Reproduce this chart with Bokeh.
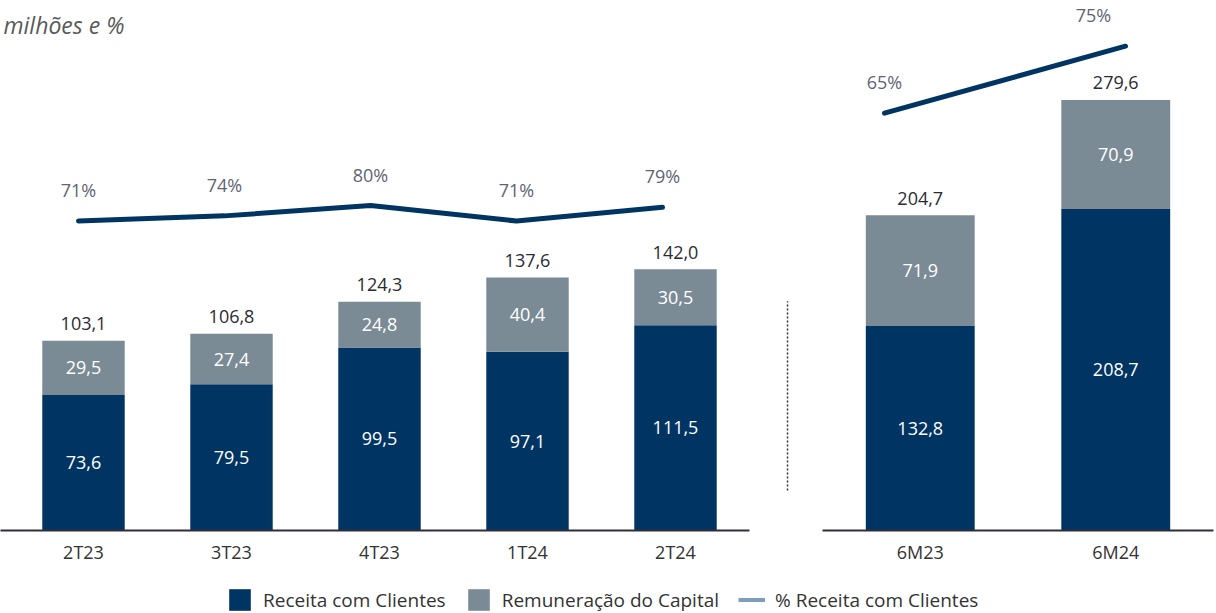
from bokeh.plotting import figure
from bokeh.models import (ColumnDataSource, Range1d, LinearAxis, FixedTicker,
                          Legend, LegendItem)
from bokeh.layouts import row, column
from bokeh.core.properties import value
from bokeh.embed import file_html
from bokeh.resources import INLINE

# ---------------- data ----------------
cats_q = ["2T23", "3T23", "4T23", "1T24", "2T24"]
rec_q = [73.6, 79.5, 99.5, 97.1, 111.5]
rem_q = [29.5, 27.4, 24.8, 40.4, 30.5]
tot_q = [103.1, 106.8, 124.3, 137.6, 142.0]
pct_q = [71, 74, 80, 71, 79]

cats_s = ["6M23", "6M24"]
rec_s = [132.8, 208.7]
rem_s = [71.9, 70.9]
tot_s = [204.7, 279.6]
pct_s = [65, 75]

unit_label = "milhões e %"
legend_labels = ["Receita com Clientes", "Remuneração do Capital", "% Receita com Clientes"]

# ---------------- style ----------------
NAVY = "#003462"
GRAY = "#7b8b96"
LEG_LINE = "#7f9cbd"
TXT = "#2b2b33"
PCT_TXT = "#5f6473"
FONT = "Open Sans"
FRAME_H = 530
AX_H = 40


def fmt(v):
    return f"{v:.1f}".replace(".", ",")


def panel(cats, rec, rem, tot, pct, width, border_left, border_right, x_range,
          px_per_unit, bar_w, pct_range, line_x_range, pct_dx):
    n = len(cats)
    p = figure(width=width, height=FRAME_H + AX_H, output_backend="svg",
               toolbar_location=None, x_axis_location=None, y_axis_location=None,
               min_border_left=border_left, min_border_right=border_right,
               min_border_top=0, min_border_bottom=AX_H, outline_line_color=None,
               x_range=Range1d(*x_range), y_range=Range1d(0, FRAME_H / px_per_unit))
    p.grid.visible = False
    p.extra_y_ranges = {"pct": Range1d(*pct_range)}
    p.extra_x_ranges = {"lx": Range1d(*line_x_range)}

    xs = [i + 0.5 for i in range(n)]
    src = ColumnDataSource(dict(
        x=xs, rec=rec, top=[a + b for a, b in zip(rec, rem)],
        rec_mid=[a / 2 for a in rec],
        rem_mid=[a + b / 2 for a, b in zip(rec, rem)],
        rec_lbl=[fmt(v) for v in rec], rem_lbl=[fmt(v) for v in rem],
        tot_lbl=[fmt(v) for v in tot],
    ))
    p.vbar(x="x", width=bar_w, bottom=0, top="rec", source=src,
           fill_color=NAVY, line_color=None)
    p.vbar(x="x", width=bar_w, bottom="rec", top="top", source=src,
           fill_color=GRAY, line_color=None)
    common = dict(text_align="center", text_baseline="middle",
                  text_font=value(FONT), text_font_size="18px")
    p.text(x="x", y="rec_mid", text="rec_lbl", source=src, text_color="white", **common)
    p.text(x="x", y="rem_mid", text="rem_lbl", source=src, text_color="white", **common)
    p.text(x="x", y="top", text="tot_lbl", source=src, text_color=TXT,
           y_offset=-17, **common)

    lsrc = ColumnDataSource(dict(i=list(range(n)), pct=pct,
                                 lbl=[f"{v}%" for v in pct], dx=pct_dx))
    p.line(x="i", y="pct", source=lsrc, x_range_name="lx", y_range_name="pct",
           line_color=NAVY, line_width=5, line_cap="round", line_join="round")
    p.text(x="i", y="pct", text="lbl", source=lsrc, x_range_name="lx", y_range_name="pct",
           x_offset="dx", y_offset=-31, text_color=PCT_TXT, text_align="center",
           text_baseline="middle", text_font=value(FONT), text_font_size="18px")

    ax = LinearAxis(ticker=FixedTicker(ticks=xs),
                    major_label_overrides={x: c for x, c in zip(xs, cats)},
                    axis_line_color="#2e2e3a", axis_line_width=2,
                    major_tick_line_color=None, minor_tick_line_color=None,
                    major_label_standoff=3, major_label_text_font=FONT,
                    major_label_text_font_size="18px", major_label_text_color="#333333",
                    bounds=(x_range[0], n))
    p.add_layout(ax, "below")
    return p


# left panel: 148 px per category, frame starts 9 px left of the first slot
left = panel(cats_q, rec_q, rem_q, tot_q, pct_q, width=800, border_left=0, border_right=0,
             x_range=(-9 / 148, 791 / 148), px_per_unit=1.84, bar_w=0.557,
             pct_range=(-108.9, 199.2), line_x_range=(-0.5342, 4.9452),
             pct_dx=[0, 0, 0, 0, 0])

# right panel: 195.5 px per category
right = panel(cats_s, rec_s, rem_s, tot_s, pct_s, width=416, border_left=22, border_right=3,
              x_range=(0, 2), px_per_unit=1.54, bar_w=0.557,
              pct_range=(2.72, 81.82), line_x_range=(-0.2573, 1.3651),
              pct_dx=[0, -32])

# unit label and separator in the left panel
left.text(x=[left.x_range.start], y=[left.y_range.end], text=[unit_label],
          text_baseline="alphabetic", text_align="left", x_offset=3, y_offset=24,
          text_font=value(FONT), text_font_size="23px", text_font_style="italic",
          text_color="#595959")
sep_x = len(cats_q) + 0.257
left.segment(x0=[sep_x], y0=[21.7], x1=[sep_x], y1=[124.6], line_color="#333333",
             line_width=1.5, line_dash="2 2")

# ---------------- legend strip ----------------
leg = figure(width=1216, height=43, output_backend="svg", toolbar_location=None,
             x_axis_location=None, y_axis_location=None, outline_line_color=None,
             min_border=0, x_range=Range1d(0, 1), y_range=Range1d(0, 1))
leg.grid.visible = False
off = ColumnDataSource(dict(x=[-5.0], y=[-5.0]))  # kept outside the visible range
g1 = leg.vbar(x="x", top="y", width=0.1, source=off, fill_color=NAVY, line_color=None)
g2 = leg.vbar(x="x", top="y", width=0.1, source=off, fill_color=GRAY, line_color=None)
g3 = leg.line(x="x", y="y", source=off, line_color=LEG_LINE, line_width=4)
legend = Legend(items=[LegendItem(label=legend_labels[0], renderers=[g1]),
                       LegendItem(label=legend_labels[1], renderers=[g2]),
                       LegendItem(label=legend_labels[2], renderers=[g3])],
                orientation="horizontal", location=(226, 0), glyph_width=27,
                glyph_height=27, label_standoff=10, spacing=19, padding=0, margin=0,
                border_line_color=None, background_fill_alpha=0,
                label_text_font=FONT, label_text_font_size="19px",
                label_text_color="#333333")
leg.add_layout(legend)

page = column(row(left, right, spacing=0), leg, spacing=0)
open("out.html", "w").write(file_html(page, INLINE))
